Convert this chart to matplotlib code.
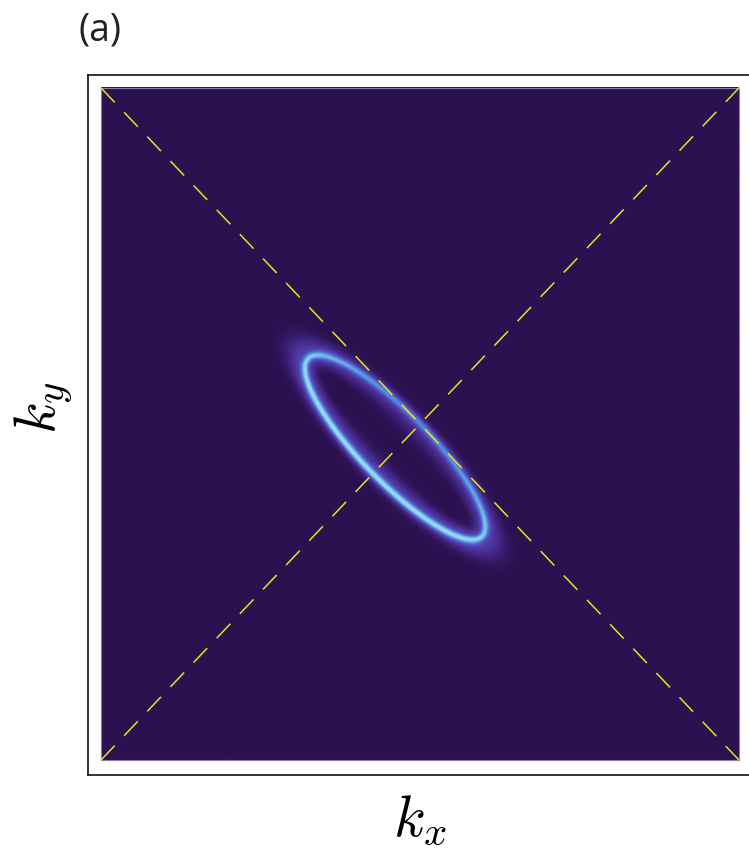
import numpy as np
import matplotlib
matplotlib.use("Agg")
import matplotlib.pyplot as plt
from matplotlib.colors import LinearSegmentedColormap
from matplotlib.patches import Rectangle

plt.rcParams['mathtext.fontset'] = 'cm'

# ring parameters (image spans -1..1 on both axes)
ring_center = (-0.078, -0.071)
ring_semi_major = 0.38
ring_semi_minor = 0.105
ring_angle_deg = -44.0
core_width = 0.012     # bright core, data units
inner_glow = 0.04      # glow inside the ring
outer_glow = 0.19      # glow outside, in elliptical radius units

# colour map: background purple -> blue -> light cyan
cmap_stops = [0.0, 0.2, 0.42, 0.62, 0.82, 1.0]
cmap_colors = ["#2b1150", "#46288a", "#5548b8", "#4c7fd8", "#86c8ef", "#b4ebf8"]

# the two dashed guide lines
diag_x = [-1.0, 1.0]
diag_y = [1.0, -1.0]
anti_x = [-1.0, 1.04]
anti_y = [-1.0, 1.04]

# build the ring image
n = 700
xs = np.linspace(-1, 1, n)
X, Y = np.meshgrid(xs, xs)
th = np.deg2rad(ring_angle_deg)
a, b = ring_semi_major, ring_semi_minor
dx = X - ring_center[0]
dy = Y - ring_center[1]
u = dx * np.cos(th) + dy * np.sin(th)
v = -dx * np.sin(th) + dy * np.cos(th)
rho = np.sqrt((u / a) ** 2 + (v / b) ** 2)
grad = np.sqrt((u / a**2) ** 2 + (v / b**2) ** 2) / np.maximum(rho, 1e-6)
d = (rho - 1) / np.maximum(grad, 1e-6)
phi = np.arctan2(v / b, u / a)

core = np.exp(-(d / core_width) ** 2)
halo = np.where(rho > 1, np.exp(-((rho - 1) / outer_glow) ** 2),
                np.exp(-(d / inner_glow) ** 2))
amp = 0.8 - 0.13 * np.sin(phi) + 0.06 * np.cos(phi) ** 2
img = np.clip(amp * (0.52 * core + 0.46 * halo), 0, 1)

cmap = LinearSegmentedColormap.from_list("ring", list(zip(cmap_stops, cmap_colors)))

fig = plt.figure(figsize=(7.49, 8.53), dpi=100)
ax = fig.add_axes([88 / 749, 1 - 775.5 / 853, 664 / 749, 700 / 853])
ax.imshow(img, origin="lower", extent=(-1, 1, -1, 1), cmap=cmap, vmin=0, vmax=1,
          aspect="auto", interpolation="bilinear")
ax.add_patch(Rectangle((-1, -1), 2, 2, fill=False, edgecolor="#8a7aa8", lw=0.8))
ax.plot(diag_x, diag_y, color="#e6e21e", lw=1.1, dashes=(13, 9))
ax.plot(anti_x, anti_y, color="#e6e21e", lw=1.1, dashes=(13, 9), clip_on=False)
ax.set_xlim(-1.0408, 1.0408)
ax.set_ylim(-1.043, 1.040)
ax.set_xticks([])
ax.set_yticks([])
for s in ax.spines.values():
    s.set_linewidth(1.2)
    s.set_color("#111111")

fig.text(78 / 749, 1 - 31 / 853, "(a)", fontsize=27, family="Open Sans",
         ha="left", va="center", color="#222222")
fig.text(420 / 749, 1 - 820 / 853, r"$k_x$", fontsize=42, ha="center", va="center")
fig.text(44 / 749, 1 - 408 / 853, r"$k_y$", fontsize=42, ha="center", va="center",
         rotation=90)

fig.savefig("out.png", dpi=100)
